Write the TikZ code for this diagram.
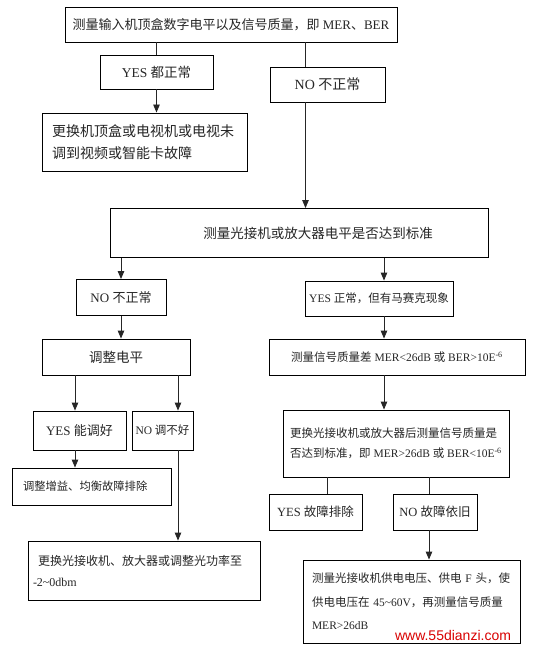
\documentclass[tikz,border=0pt]{standalone}
\usepackage{fontspec}
\setmainfont{Liberation Serif}
\newfontfamily\cjk{Noto Sans CJK SC}
\newfontfamily\marksans{Liberation Sans}
\newcommand{\zh}[1]{{\cjk #1}}
\usepackage{tikz}
\usetikzlibrary{arrows.meta}
\tikzset{
  flowbox/.style={
    draw, line width=0.9pt, inner sep=0pt, align=center,
    fill=white, text=black!85
  },
  textbox/.style={
    flowbox, align=left, inner ysep=0pt
  },
  flowline/.style={line width=0.9pt, black!85},
  flowarrow/.style={-{Triangle[length=8pt,width=6.5pt]}, line width=0.9pt, black!85},
}

\begin{document}
\begin{tikzpicture}[x=1pt, y=-1pt]
  \useasboundingbox[fill=white] (0,0) rectangle (539,647);

  % Top measurement
  \node[flowbox, minimum width=332pt, minimum height=35pt, font=\fontsize{13}{16}\selectfont] (top) at (231,24.5) {\zh{测量输入机顶盒数字电平以及信号质量，即} MER\zh{、}BER};

  % First decision
  \node[flowbox, minimum width=113pt, minimum height=34pt, font=\fontsize{13.5}{16}\selectfont] (yes1) at (156.5,72) {YES \zh{都正常}};
  \node[flowbox, minimum width=115pt, minimum height=35pt, font=\fontsize{14}{16}\selectfont] (no1) at (327.5,84.5) {NO \zh{不正常}};
  \node[textbox, text width=185pt, inner xsep=10pt, minimum height=58pt, font=\fontsize{14}{22}\selectfont] (chg1) at (144.5,142) {\zh{更换机顶盒或电视机或电视未}\\\zh{调到视频或智能卡故障}};

  % Level check
  \node[flowbox, minimum width=378pt, minimum height=49pt, font=\fontsize{13.5}{16}\selectfont] (check) at (299,233) {\hspace*{38pt}\zh{测量光接机或放大器电平是否达到标准}};

  % Left branch
  \node[flowbox, minimum width=90pt, minimum height=36pt, font=\fontsize{13}{16}\selectfont] (no2) at (121,297.5) {NO \zh{不正常}};
  \node[flowbox, minimum width=148pt, minimum height=36pt, font=\fontsize{13.5}{16}\selectfont] (adj) at (116,357) {\zh{调整电平}};
  \node[flowbox, minimum width=93pt, minimum height=39pt, font=\fontsize{13}{16}\selectfont] (yesok) at (79.5,430.5) {YES \zh{能调好}};
  \node[flowbox, minimum width=61pt, minimum height=39pt, font=\fontsize{11.5}{16}\selectfont] (nook) at (162.5,430.5) {NO \zh{调不好}};
  \node[textbox, text width=137pt, inner xsep=11pt, minimum height=37pt, font=\fontsize{11.3}{16}\selectfont] (gain) at (91.5,486.5) {\zh{调整增益、均衡故障排除}};
  \node[textbox, text width=222pt, inner xsep=5pt, minimum height=59pt, font=\fontsize{12}{21}\selectfont] (chg2) at (144,570.5) {\hspace*{5pt}\zh{更换光接收机、放大器或调整光功率至}\\-2\textasciitilde0dbm};

  % Right branch
  \node[flowbox, minimum width=148pt, minimum height=35pt, font=\fontsize{11.5}{16}\selectfont] (yes2) at (379,298.5) {YES \zh{正常，但有马赛克现象}};
  \node[flowbox, minimum width=256pt, minimum height=36pt, font=\fontsize{11.5}{16}\selectfont] (meas) at (397,357) {\zh{测量信号质量差} MER<26dB \zh{或} BER>10E\textsuperscript{-6}};
  \node[textbox, minimum width=226pt, minimum height=67pt, font=\fontsize{11.5}{20}\selectfont] (swap) at (396,443.5) {\zh{更换光接收机或放大器后测量信号质量是}\\\zh{否达到标准，即} MER>26dB \zh{或} BER<10E\textsuperscript{-6}};
  \node[flowbox, minimum width=93pt, minimum height=36pt, font=\fontsize{12.5}{16}\selectfont] (yesfix) at (315.5,512) {YES \zh{故障排除}};
  \node[flowbox, minimum width=84pt, minimum height=36pt, font=\fontsize{12.5}{16}\selectfont] (nofix) at (435,512) {NO \zh{故障依旧}};
  \node[textbox, text width=199pt, inner xsep=9pt, minimum height=83pt, font=\fontsize{11.5}{23.5}\selectfont] (final) at (411.5,601.5) {\zh{测量光接收机供电电压、供电} F \zh{头，使}\\\zh{供电电压在} 45\textasciitilde60V\zh{，再测量信号质量}\\MER>26dB};
  \node[font=\marksans\fontsize{14}{16}\selectfont, text=red!85!black, inner sep=1pt] (mark) at (453,635) {www.55dianzi.com};

  % Connectors
  \draw[flowline] (yes1.north |- top.south) -- (yes1.north);
  \draw[flowarrow] (yes1.south) -- (yes1.south |- chg1.north);
  \draw[flowline] ([xshift=-22pt]no1.north |- top.south) -- ([xshift=-22pt]no1.north);
  \draw[flowarrow] ([xshift=-22pt]no1.south) -- ([xshift=-22pt]no1.south |- check.north);
  \draw[flowarrow] (no2.north |- check.south) -- (no2.north);
  \draw[flowarrow] ([xshift=5pt]yes2.north |- check.south) -- ([xshift=5pt]yes2.north);
  \draw[flowarrow] (no2.south) -- (no2.south |- adj.north);
  \draw[flowarrow] ([xshift=-4.5pt]yesok.north |- adj.south) -- ([xshift=-4.5pt]yesok.north);
  \draw[flowarrow] ([xshift=15.5pt]nook.north |- adj.south) -- ([xshift=15.5pt]nook.north);
  \draw[flowarrow] ([xshift=-4.5pt]yesok.south) -- ([xshift=-4.5pt]yesok.south |- gain.north);
  \draw[flowarrow] ([xshift=15.5pt]nook.south) -- ([xshift=15.5pt]nook.south |- chg2.north);
  \draw[flowarrow] ([xshift=5pt]yes2.south) -- ([xshift=5pt]yes2.south |- meas.north);
  \draw[flowarrow] ([xshift=5pt]yes2.south |- meas.south) -- ([xshift=5pt]yes2.south |- swap.north);
  \draw[flowline] ([xshift=11.5pt]yesfix.north |- swap.south) -- ([xshift=11.5pt]yesfix.north);
  \draw[flowline] ([xshift=-6pt]nofix.north |- swap.south) -- ([xshift=-6pt]nofix.north);
  \draw[flowarrow] ([xshift=-6pt]nofix.south) -- ([xshift=-6pt]nofix.south |- final.north);
\end{tikzpicture}
\end{document}
